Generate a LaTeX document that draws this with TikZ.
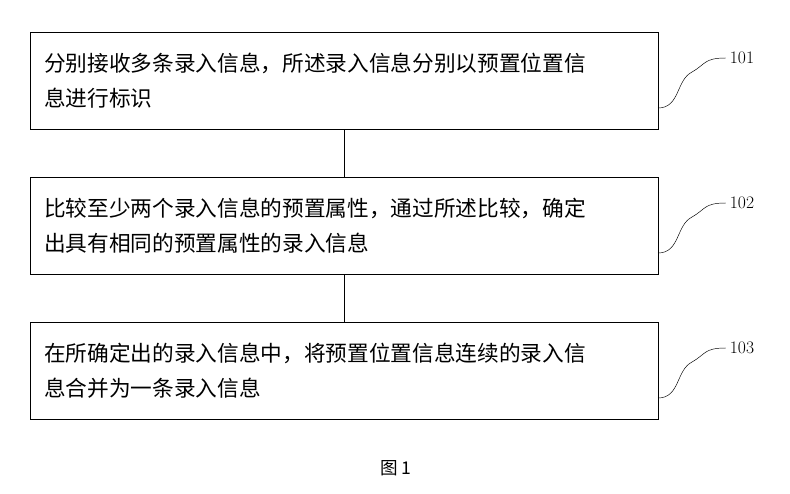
\documentclass[tikz,border=0pt]{standalone}
\usepackage{fontspec}
\newfontfamily\cjk{Noto Sans CJK SC}
\usetikzlibrary{positioning}
\begin{document}
\begin{tikzpicture}[x=0.03cm,y=-0.03cm,
  procbox/.style={draw,thick,minimum width=628*0.03cm,minimum height=97*0.03cm,
    text width=600*0.03cm,align=left,font=\cjk\fontsize{18.5}{30}\selectfont},
  tag/.style={font=\fontsize{15}{17}\selectfont}]
\useasboundingbox (0,0) rectangle (790,493);
\node[procbox] (s1) at (344,81) {分别接收多条录入信息，所述录入信息分别以预置位置信\\息进行标识};
\node[procbox] (s2) at (344,226) {比较至少两个录入信息的预置属性，通过所述比较，确定\\出具有相同的预置属性的录入信息};
\node[procbox] (s3) at (344,371) {在所确定出的录入信息中，将预置位置信息连续的录入信\\息合并为一条录入信息};
\draw[thick] (s1) -- (s2);
\draw[thick] (s2) -- (s3);
% labels with wavy leaders
\foreach \n/\y in {1/0,2/145,3/290}{
  \node[tag] (t\n) at (742,58+\y) {10\n};
  \draw (658,108+\y) .. controls (680,108+\y) and (676,80+\y) .. (692,72+\y)
        .. controls (706,64+\y) and (704,58+\y) .. (t\n.west);
}
\node[font=\cjk\fontsize{15}{17}\selectfont] (fig) at (396,468) {图 1};
\end{tikzpicture}
\end{document}
